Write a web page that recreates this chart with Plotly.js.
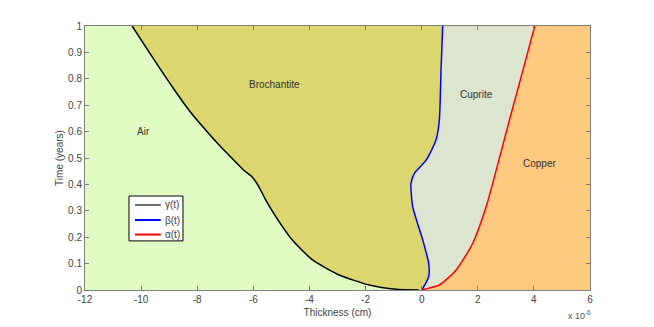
<!DOCTYPE html>
<html>
<head>
<meta charset="utf-8">
<script src="https://cdn.plot.ly/plotly-3.0.1.min.js"></script>
<style>
  html, body { margin: 0; padding: 0; background: #fff; }
  #chart { width: 654px; height: 327px; }
</style>
</head>
<body>
<div id="chart"></div>
<script>
// boundary curves, thickness in units of 1e-6 cm, time in years
let gammaX = [-0.1, -0.9, -1.87, -2.94, -3.89, -4.61, -5.20, -5.56, -5.80, -6.05, -6.30, -6.65, -7.22, -7.70, -8.30, -8.89, -9.61, -10.32];
let gammaT = [0, 0.003, 0.019, 0.057, 0.114, 0.189, 0.278, 0.341, 0.391, 0.429, 0.450, 0.487, 0.549, 0.606, 0.682, 0.770, 0.884, 1.0];

let betaX = [0, 0.04, 0.25, 0.25, 0.04, -0.32, -0.38, -0.26, 0.16, 0.51, 0.63, 0.69, 0.75];
let betaT = [0, 0.006, 0.051, 0.101, 0.189, 0.316, 0.404, 0.442, 0.492, 0.568, 0.644, 0.833, 1.0];

let alphaX = [0, 0.10, 0.63, 1.23, 1.82, 2.30, 2.66, 3.13, 3.61, 4.03];
let alphaT = [0, 0.003, 0.019, 0.076, 0.177, 0.316, 0.455, 0.644, 0.833, 1.0];

let regionNames = ['Air', 'Brochantite', 'Cuprite', 'Copper'];
let regionLabelX = [-9.9, -5.26, 1.95, 4.2];
let regionLabelT = [0.60, 0.78, 0.74, 0.48];

let seriesNames = ['γ(t)', 'β(t)', 'α(t)'];
let seriesColors = ['#000000', '#0000ff', '#ff0000'];
let legendColors = ['#707070', '#0000ff', '#ff0000'];

let xTicks = [-12, -10, -8, -6, -4, -2, 0, 2, 4, 6];
let xTickLabels = ['-12', '-10', '-8', '-6', '-4', '-2', '0', '2', '4', '6'];

let xMin = -12, xMax = 6;

//colours of the phases
let regionColors = ['rgb(224,252,196)', 'rgb(220,214,110)', 'rgb(221,228,207)', 'rgb(253,202,128)'];

function rev(a) { return a.slice().reverse(); }

let graphData = [];

// Air: left edge to gamma
graphData.push({
    x: [xMin, xMin].concat(rev(gammaX), [0]),
    y: [0, 1].concat(rev(gammaT), [0]),
    fill: 'toself', fillcolor: regionColors[0], mode: 'none',
    showlegend: false, hoverinfo: 'skip'
});
// Brochantite: gamma to beta
graphData.push({
    x: gammaX.concat(rev(betaX)),
    y: gammaT.concat(rev(betaT)),
    fill: 'toself', fillcolor: regionColors[1], mode: 'none',
    showlegend: false, hoverinfo: 'skip'
});
// Cuprite: beta to alpha
graphData.push({
    x: betaX.concat(rev(alphaX)),
    y: betaT.concat(rev(alphaT)),
    fill: 'toself', fillcolor: regionColors[2], mode: 'none',
    showlegend: false, hoverinfo: 'skip'
});
// Copper: alpha to right edge
graphData.push({
    x: alphaX.concat([xMax, xMax]),
    y: alphaT.concat([1, 0]),
    fill: 'toself', fillcolor: regionColors[3], mode: 'none',
    showlegend: false, hoverinfo: 'skip'
});

let curves = [[gammaX, gammaT], [betaX, betaT], [alphaX, alphaT]];
curves.forEach(function (c, i) {
    graphData.push({
        x: c[0], y: c[1], name: seriesNames[i], mode: 'lines', showlegend: false,
        line: { color: seriesColors[i], width: 1.5, shape: 'spline', smoothing: 0.6 }
    });
});

let annotations = regionNames.map(function (name, i) {
    return {
        x: regionLabelX[i], y: regionLabelT[i], xref: 'x', yref: 'y',
        text: name, showarrow: false,
        font: { size: 10, color: '#333333' }
    };
});
annotations.push({
    x: 0.953, y: -0.095, xref: 'paper', yref: 'paper',
    xanchor: 'left', yanchor: 'middle',
    text: 'x 10<sup>-6</sup>', showarrow: false,
    font: { size: 9, color: '#555555' }
});

// hand drawn legend box (matlab style, tight spacing)
let shapes = [{
    type: 'rect', xref: 'paper', yref: 'paper',
    x0: 0.0871, x1: 0.194, y0: 0.186, y1: 0.356,
    fillcolor: '#ffffff', line: { color: '#000000', width: 1 }
}];
let legendRows = [0.322, 0.265, 0.210];
seriesNames.forEach(function (name, i) {
    shapes.push({
        type: 'line', xref: 'paper', yref: 'paper',
        x0: 0.099, x1: 0.150, y0: legendRows[i], y1: legendRows[i],
        line: { color: legendColors[i], width: 2 }
    });
    annotations.push({
        x: 0.155, y: legendRows[i], xref: 'paper', yref: 'paper',
        xanchor: 'left', yanchor: 'middle', showarrow: false,
        text: name, font: { size: 10, color: '#444444' }
    });
});

let axisStyle = {
    showgrid: false, zeroline: false,
    showline: true, linecolor: '#808080', linewidth: 1,
    mirror: 'ticks', ticks: 'inside', ticklen: 4, tickcolor: '#808080',
    tickfont: { family: 'Liberation Sans, Arial, sans-serif', size: 10, color: '#444444' }
};

let layout = {
    width: 654, height: 327,
    margin: { l: 85, r: 64, t: 26, b: 37 },
    paper_bgcolor: '#ffffff',
    plot_bgcolor: '#ffffff',
    showlegend: false,
    font: { family: 'Liberation Sans, Arial, sans-serif', size: 10, color: '#444444' },
    xaxis: Object.assign({}, axisStyle, {
        range: [xMin, xMax], tickmode: 'array', tickvals: xTicks, ticktext: xTickLabels,
        title: { text: 'Thickness (cm)', standoff: 4, font: { size: 10, color: '#444444' } }
    }),
    yaxis: Object.assign({}, axisStyle, {
        range: [0, 1], dtick: 0.1,
        title: { text: 'Time (years)', standoff: 2, font: { size: 10, color: '#444444' } }
    }),
    shapes: shapes,
    annotations: annotations
};

Plotly.newPlot('chart', graphData, layout, { displayModeBar: false, staticPlot: true });
</script>
</body>
</html>
